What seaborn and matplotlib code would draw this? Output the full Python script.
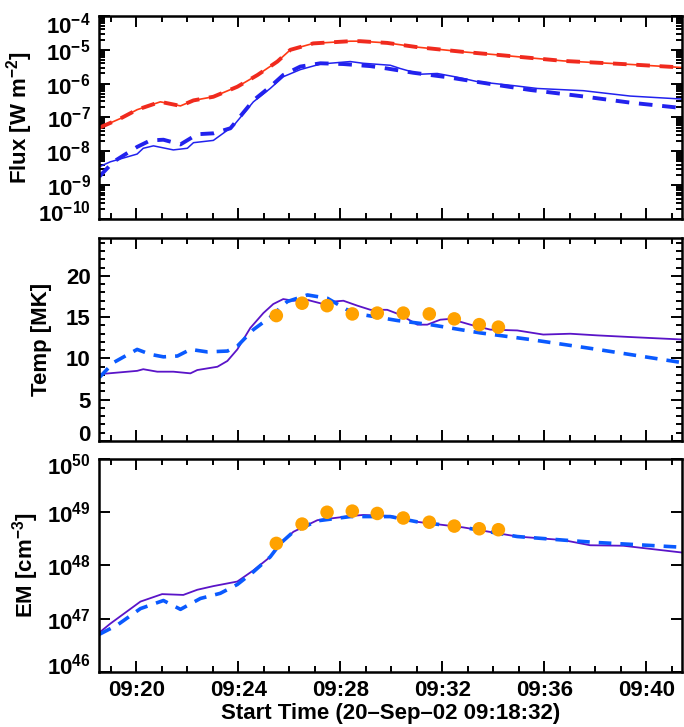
import matplotlib
matplotlib.use('Agg')
from matplotlib import pyplot as plt
from matplotlib import ticker, transforms
import numpy as np
import seaborn as sns

# time axis: minutes after 09:00 on 20-Sep-02
t_start = 18 + 32 / 60.
t_end = 41.4
xticks = [20, 24, 28, 32, 36, 40]
xticklabels = ['09:20', '09:24', '09:28', '09:32', '09:36', '09:40']
flux_ticks = [1e-10, 1e-9, 1e-8, 1e-7, 1e-6, 1e-5, 1e-4]
temp_ticks = [0, 5, 10, 15, 20]
em_ticks = [1e46, 1e47, 1e48, 1e49, 1e50]

# GOES 1-8 A flux (obs solid / model dashed overlap)
t_long = [18.55, 19.37, 20.03, 20.94, 21.73, 22.24, 23.02, 23.96, 24.75, 25.53, 26.04,
          26.94, 28.39, 28.78, 29.84, 31.02, 32.82, 34.16, 36.75, 39.37, 41.41]
flux_long = [5.0e-8, 9.3e-8, 1.7e-7, 2.9e-7, 2.2e-7, 3.2e-7, 4.1e-7, 8.1e-7, 1.8e-6, 4.5e-6, 1.0e-5,
             1.55e-5, 1.8e-5, 1.8e-5, 1.6e-5, 1.2e-5, 8.7e-6, 7.1e-6, 4.7e-6, 3.7e-6, 3.0e-6]

# GOES 0.5-4 A flux, observed
t_short_obs = [18.55, 18.98, 20.03, 20.27, 20.67, 21.45, 22.00, 22.24, 23.02, 23.80, 24.59, 25.25,
               25.76, 26.43, 27.22, 28.39, 28.90, 29.96, 30.35, 31.14, 31.80, 32.59, 33.37, 34.94,
               35.73, 37.53, 39.37, 41.41]
flux_short_obs = [3.5e-9, 4.9e-9, 8.3e-9, 1.23e-8, 1.45e-8, 1.1e-8, 1.23e-8, 1.8e-8, 2.1e-8, 5.6e-8,
                  2.9e-7, 7.2e-7, 1.6e-6, 2.6e-6, 3.8e-6, 4.5e-6, 4.0e-6, 3.5e-6, 2.8e-6, 1.9e-6,
                  2.0e-6, 1.55e-6, 1.15e-6, 8.5e-7, 7.2e-7, 6.2e-7, 4.3e-7, 3.5e-7]

# GOES 0.5-4 A flux, model
t_short_mod = [18.55, 19.10, 20.03, 20.55, 21.06, 21.73, 22.39, 23.02, 23.69, 24.59, 25.25, 25.76,
               26.43, 27.22, 28.12, 29.18, 29.84, 30.86, 32.20, 33.88, 35.45, 37.41, 39.37, 41.41]
flux_short_mod = [1.8e-9, 4.9e-9, 1.35e-8, 2.1e-8, 2.2e-8, 1.6e-8, 3.2e-8, 3.4e-8, 4.8e-8, 3.2e-7,
                  8.1e-7, 1.8e-6, 3.2e-6, 4.0e-6, 3.8e-6, 3.3e-6, 2.8e-6, 2.1e-6, 1.55e-6, 9.8e-7,
                  6.5e-7, 4.3e-7, 2.75e-7, 1.9e-7]

# temperature [MK]
t_temp_obs = [18.55, 20.03, 20.27, 20.82, 21.45, 22.12, 22.39, 23.18, 23.57, 23.96, 24.47, 24.98,
              25.37, 25.76, 26.16, 26.71, 27.33, 27.73, 28.12, 28.67, 29.18, 29.84, 30.35, 31.02,
              31.41, 31.92, 32.31, 33.10, 33.88, 34.94, 35.96, 37.02, 38.08, 39.37, 41.41]
temp_obs = [8.1, 8.5, 8.7, 8.4, 8.4, 8.2, 8.6, 9.0, 9.7, 11.1, 13.7, 15.5,
            16.6, 17.2, 17.0, 17.1, 16.6, 16.9, 17.0, 16.4, 15.9, 15.9, 15.3, 14.1,
            14.1, 14.7, 14.8, 14.1, 13.5, 13.4, 12.9, 13.0, 12.8, 12.6, 12.3]
t_temp_mod = [18.55, 19.10, 20.03, 20.55, 21.06, 21.61, 22.12, 22.78, 23.57, 23.96, 24.59, 25.25,
              25.92, 26.71, 27.49, 28.27, 28.90, 30.24, 31.53, 33.49, 35.45, 38.08, 41.41]
temp_mod = [7.7, 9.5, 11.1, 10.5, 10.2, 10.3, 11.1, 10.8, 10.9, 11.5, 13.5, 15.0,
            16.9, 17.7, 17.3, 15.9, 15.3, 14.6, 14.1, 13.1, 12.3, 11.1, 9.5]

# emission measure [cm^-3]
t_em_obs = [18.55, 18.98, 20.16, 21.01, 21.84, 22.39, 23.02, 23.96, 24.59, 25.25, 25.65, 26.16,
            27.10, 28.39, 28.90, 29.96, 31.02, 32.82, 34.94, 36.75, 37.80, 39.10, 41.41]
em_obs = [5.5e46, 8.1e46, 2.1e47, 2.9e47, 2.8e47, 3.5e47, 4.1e47, 5.0e47, 8.1e47, 1.45e48, 2.6e48,
          4.3e48, 7.1e48, 8.5e48, 8.9e48, 8.5e48, 6.6e48, 5.2e48, 3.5e48, 3.0e48, 2.4e48, 2.35e48,
          1.75e48]
t_em_mod = [18.55, 19.25, 20.16, 21.06, 21.73, 22.51, 23.29, 23.96, 24.59, 25.25, 25.65, 26.16,
            27.10, 28.39, 29.96, 31.02, 32.82, 34.94, 36.75, 38.08, 39.37, 41.41]
em_mod = [5.1e46, 7.6e46, 1.55e47, 2.2e47, 1.5e47, 2.4e47, 3.0e47, 4.4e47, 7.6e47, 1.45e48, 2.6e48,
          4.3e48, 6.9e48, 8.3e48, 8.3e48, 6.6e48, 5.2e48, 3.5e48, 3.0e48, 2.7e48, 2.5e48, 2.2e48]

# spectral fit points
t_fit = [25.49, 26.50, 27.48, 28.47, 29.45, 30.47, 31.49, 32.47, 33.45, 34.20]
temp_fit = [15.2, 16.7, 16.4, 15.4, 15.5, 15.5, 15.4, 14.8, 14.1, 13.8]
em_fit = [2.6e48, 6.0e48, 1.0e49, 1.05e49, 9.5e48, 7.8e48, 6.5e48, 5.5e48, 4.9e48, 4.7e48]


sns.set_style('ticks')
plt.rcParams['font.family'] = ['Liberation Sans', 'DejaVu Sans']
plt.rcParams['font.weight'] = 'bold'
plt.rcParams['axes.labelweight'] = 'bold'
plt.rcParams['mathtext.fontset'] = 'custom'
plt.rcParams['mathtext.rm'] = 'Liberation Sans:bold'
plt.rcParams['mathtext.bf'] = 'Liberation Sans:bold'
plt.rcParams['mathtext.it'] = 'Liberation Sans:bold'
plt.rcParams['axes.edgecolor'] = 'black'
plt.rcParams['xtick.color'] = 'black'
plt.rcParams['ytick.color'] = 'black'
plt.rcParams['text.color'] = 'black'
plt.rcParams['axes.labelcolor'] = 'black'

fig = plt.figure(figsize=(6.84, 7.27), dpi=100)
ax1 = fig.add_axes([0.1447, 0.6988, 0.8523, 0.2792])
ax2 = fig.add_axes([0.1447, 0.3934, 0.8523, 0.2792])
ax3 = fig.add_axes([0.1447, 0.0757, 0.8523, 0.2929])

red = '#ff3a14'
blue = '#2222ee'
purple = '#5a14c8'
ltblue = '#0a5aff'
orange = '#ffa200'
dash = (0, (3.5, 2.5))

sns.lineplot(x=t_long, y=flux_long, ax=ax1, color=red, lw=1.2)
sns.lineplot(x=t_long, y=flux_long, ax=ax1, color='#f02a1e', lw=2.8, linestyle=dash)
sns.lineplot(x=t_short_obs, y=flux_short_obs, ax=ax1, color=blue, lw=1.1)
sns.lineplot(x=t_short_mod, y=flux_short_mod, ax=ax1, color=blue, lw=2.8, linestyle=dash)

sns.lineplot(x=t_temp_obs, y=temp_obs, ax=ax2, color=purple, lw=1.3)
sns.lineplot(x=t_temp_mod, y=temp_mod, ax=ax2, color=ltblue, lw=2.6, linestyle=dash)
sns.scatterplot(x=t_fit, y=temp_fit, ax=ax2, color=orange, s=95, edgecolor='none', zorder=5)

sns.lineplot(x=t_em_obs, y=em_obs, ax=ax3, color=purple, lw=1.3)
sns.lineplot(x=t_em_mod, y=em_mod, ax=ax3, color=ltblue, lw=2.6, linestyle=dash)
sns.scatterplot(x=t_fit, y=em_fit, ax=ax3, color=orange, s=95, edgecolor='none', zorder=5)


def pow_label(v, pos):
    return r'$\mathbf{10^{%d}}$' % int(round(np.log10(v)))


ax1.set_yscale('log')
ax1.set_ylim(1e-10, 1e-4)
ax1.yaxis.set_major_locator(ticker.FixedLocator(flux_ticks))
ax1.yaxis.set_minor_locator(ticker.LogLocator(base=10, subs=np.arange(2, 10), numticks=20))
ax1.yaxis.set_major_formatter(ticker.FuncFormatter(pow_label))
ax1.yaxis.set_minor_formatter(ticker.NullFormatter())
ax1.set_ylabel(r'Flux [W m$^{-2}$]', fontsize=16, labelpad=2)

ax2.set_ylim(0, 24.6)
ax2.yaxis.set_major_locator(ticker.FixedLocator(temp_ticks))
ax2.yaxis.set_minor_locator(ticker.MultipleLocator(1))
ax2.set_ylabel('Temp [MK]', fontsize=16, labelpad=10)

ax3.set_yscale('log')
ax3.set_ylim(1e46, 1e50)
ax3.yaxis.set_major_locator(ticker.FixedLocator(em_ticks))
ax3.yaxis.set_minor_locator(ticker.NullLocator())
ax3.yaxis.set_major_formatter(ticker.FuncFormatter(pow_label))
ax3.set_ylabel(r'EM [cm$^{-3}$]', fontsize=16, labelpad=4)
ax3.set_xlabel('Start Time (20\u2013Sep\u201302 09:18:32)', fontsize=16, labelpad=1)

for ax in (ax1, ax2, ax3):
    ax.set_xlim(t_start, t_end)
    ax.set_xticks(xticks)
    ax.xaxis.set_minor_locator(ticker.MultipleLocator(1))
    ax.tick_params(which='both', direction='in', top=True, right=True, width=1.4,
                   labelsize=16, pad=6)
    ax.tick_params(which='major', length=8)
    ax.tick_params(which='minor', length=4)
    for s in ax.spines.values():
        s.set_linewidth(1.8)
    if ax is ax3:
        ax.set_xticklabels(xticklabels)
    else:
        ax.set_xticklabels([])
        ax.set_xlabel('')


# nudge end labels inside the axis range, as in the original (offsets in pixels)
def nudge(ax, idx, dy_px):
    lab = ax.yaxis.get_major_ticks()[idx].label1
    off = transforms.ScaledTranslation(0, dy_px / 100., fig.dpi_scale_trans)
    lab.set_transform(lab.get_transform() + off)


nudge(ax1, 0, 8)
nudge(ax1, -1, -7)
nudge(ax2, 0, 8)
nudge(ax3, 0, 8)
nudge(ax3, -1, -5)

plt.savefig('out.png', dpi=100)
